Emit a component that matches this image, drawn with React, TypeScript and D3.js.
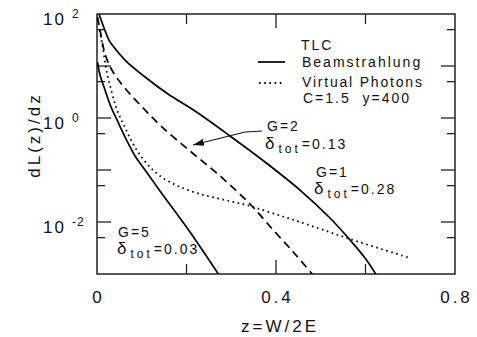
import { useRef, useEffect } from "react";
import * as d3 from "d3";

// curves: [z, dL/dz]
const beamG1: [number, number][] = [
  [0.0045, 100], [0.0268, 31.6], [0.0358, 24.2], [0.0626, 13.0], [0.1073, 6.14],
  [0.1587, 2.89], [0.219, 1.36], [0.2972, 0.451], [0.3754, 0.1426], [0.4536, 0.0412],
  [0.5207, 0.01194], [0.5654, 0.00451], [0.5989, 0.00203], [0.6257, 0.000916],
];
const beamG2: [number, number][] = [
  [0.0011, 87.6], [0.0067, 49.3], [0.0156, 20.3], [0.0246, 11.9], [0.0358, 7.67],
  [0.0514, 4.92], [0.0737, 2.89], [0.1073, 1.425], [0.1475, 0.643], [0.2078, 0.232],
  [0.2749, 0.0767], [0.3419, 0.0222], [0.3978, 0.00642], [0.4425, 0.00243],
  [0.4827, 0.000957],
];
const beamG5: [number, number][] = [
  [0.0011, 11.9], [0.0067, 6.71], [0.0156, 3.95], [0.0313, 1.63], [0.0447, 0.916],
  [0.0648, 0.394], [0.0849, 0.186], [0.1073, 0.1], [0.1408, 0.0394], [0.2078, 0.00642],
  [0.2726, 0.000957],
];
const virtualPhotons: [number, number][] = [
  [0.0056, 49.3], [0.0112, 27.7], [0.0223, 7.33], [0.0335, 3.03], [0.0425, 1.63],
  [0.0514, 1.045], [0.0626, 0.656], [0.076, 0.378], [0.0916, 0.222], [0.114, 0.125],
  [0.1408, 0.0767], [0.181, 0.0492], [0.2302, 0.0345], [0.286, 0.0265], [0.3419, 0.0203],
  [0.3978, 0.01426], [0.4536, 0.01], [0.5654, 0.00471], [0.6994, 0.00203],
];

const xTicks = [0, 0.2, 0.4, 0.6, 0.8];
const xLabels = ["0", "", "0.4", "", "0.8"];
const yDecades = [100, 10, 1, 0.1, 0.01, 0.001];
const yLabelled = [
  { v: 100, exp: "2" },
  { v: 1, exp: "0" },
  { v: 0.01, exp: "-2" },
];
const yMinor = [50, 5, 0.5, 0.05, 0.005];
// arrow pointing at the G=2 curve
const arrowPts: [number, number][] = [[0.369, 0.563], [0.331, 0.538], [0.2145, 0.303]];

const FONT = "'Liberation Sans', Arial, Helvetica, sans-serif";
const INK = "#111";

export default function App() {
  const svgRef = useRef<SVGSVGElement>(null);

  useEffect(() => {
    if (!svgRef.current) return;
    const svg = d3.select(svgRef.current);
    svg.selectAll("*").remove();

    const W = 477, H = 337;
    const margin = { top: 14, right: 22, bottom: 63, left: 97 };
    const x = d3.scaleLinear().domain([0, 0.8]).range([margin.left, W - margin.right]);
    const y = d3.scaleLog().domain([0.001, 100]).range([H - margin.bottom, margin.top]);
    const x0 = margin.left, x1 = W - margin.right, y0 = H - margin.bottom, y1 = margin.top;

    const defs = svg.append("defs");
    defs.append("clipPath").attr("id", "plot")
      .append("rect").attr("x", x0).attr("y", y1).attr("width", x1 - x0).attr("height", y0 - y1);
    defs.append("marker")
      .attr("id", "head").attr("viewBox", "0 0 11 7").attr("refX", 11).attr("refY", 3.5)
      .attr("markerWidth", 11).attr("markerHeight", 7).attr("markerUnits", "userSpaceOnUse")
      .attr("orient", "auto")
      .append("path").attr("d", "M0,0 L11,3.5 L0,7 Z").attr("fill", INK);

    // frame
    svg.append("rect").attr("x", x0).attr("y", y1).attr("width", x1 - x0).attr("height", y0 - y1)
      .attr("fill", "none").attr("stroke", "#222").attr("stroke-width", 1.5);

    // x ticks (inside, top and bottom)
    xTicks.slice(1, -1).forEach((t, i) => {
      const len = xLabels[i + 1] ? 14 : 10;
      svg.append("line").attr("x1", x(t)).attr("x2", x(t)).attr("y1", y0).attr("y2", y0 - len)
        .attr("stroke", "#222").attr("stroke-width", 1.3);
      svg.append("line").attr("x1", x(t)).attr("x2", x(t)).attr("y1", y1).attr("y2", y1 + len)
        .attr("stroke", "#222").attr("stroke-width", 1.3);
    });
    xTicks.forEach((t, i) => {
      if (!xLabels[i]) return;
      svg.append("text").attr("x", x(t) + 1.5).attr("y", 303).attr("text-anchor", "middle")
        .attr("font-family", FONT).attr("font-size", 17).attr("letter-spacing", 3)
        .attr("fill", INK).text(xLabels[i]);
    });

    // y ticks (inside, left and right)
    const yTick = (v: number, len: number) => {
      svg.append("line").attr("x1", x0).attr("x2", x0 + len).attr("y1", y(v)).attr("y2", y(v))
        .attr("stroke", "#222").attr("stroke-width", 1.3);
      svg.append("line").attr("x1", x1).attr("x2", x1 - len).attr("y1", y(v)).attr("y2", y(v))
        .attr("stroke", "#222").attr("stroke-width", 1.3);
    };
    yDecades.slice(1, -1).forEach((v) => yTick(v, 14));
    yMinor.forEach((v) => yTick(v, 8));

    yLabelled.forEach((d) => {
      svg.append("text").attr("x", 43).attr("y", y(d.v) + 11)
        .attr("font-family", FONT).attr("font-size", 17).attr("letter-spacing", 2)
        .attr("fill", INK).text("10");
      svg.append("text").attr("x", 72).attr("y", y(d.v) + 4)
        .attr("font-family", FONT).attr("font-size", 12).attr("letter-spacing", 1)
        .attr("fill", INK).text(d.exp);
    });

    // axis titles
    svg.append("text").attr("x", 280).attr("y", 332).attr("text-anchor", "middle")
      .attr("font-family", FONT).attr("font-size", 17).attr("letter-spacing", 3)
      .attr("fill", INK).text("z=W/2E");
    svg.append("text").attr("transform", "translate(40,135) rotate(-90)").attr("text-anchor", "middle")
      .attr("font-family", FONT).attr("font-size", 17).attr("letter-spacing", 3)
      .attr("fill", INK).text("dL(z)/dz");

    // curves
    const line = d3.line<[number, number]>()
      .x((d) => x(d[0])).y((d) => y(d[1])).curve(d3.curveCatmullRom.alpha(0.5));
    const curves = svg.append("g").attr("clip-path", "url(#plot)")
      .attr("fill", "none").attr("stroke", "#000").attr("stroke-width", 1.7);
    curves.append("path").attr("d", line(beamG1));
    curves.append("path").attr("d", line(beamG5));
    curves.append("path").attr("d", line(beamG2)).attr("stroke-dasharray", "8,5");
    curves.append("path").attr("d", line(virtualPhotons))
      .attr("stroke-dasharray", "1.6,3.6").attr("stroke-width", 1.8);

    // arrow
    svg.append("path")
      .attr("d", d3.line<[number, number]>().x((d) => x(d[0])).y((d) => y(d[1]))(arrowPts))
      .attr("fill", "none").attr("stroke", INK).attr("stroke-width", 1.2)
      .attr("marker-end", "url(#head)");

    // legend
    const txt = (tx: number, ty: number, s: string, size = 14, ls = 2) =>
      svg.append("text").attr("x", tx).attr("y", ty).attr("font-family", FONT)
        .attr("font-size", size).attr("letter-spacing", ls).attr("fill", INK).text(s);
    txt(301, 50, "TLC");
    svg.append("line").attr("x1", 258).attr("x2", 285).attr("y1", 62).attr("y2", 62)
      .attr("stroke", "#000").attr("stroke-width", 1.7);
    txt(302, 67, "Beamstrahlung");
    svg.append("line").attr("x1", 259).attr("x2", 285).attr("y1", 83).attr("y2", 83)
      .attr("stroke", "#000").attr("stroke-width", 1.8).attr("stroke-dasharray", "1.6,3.6");
    txt(302, 87, "Virtual Photons", 14, 1.8);
    txt(303, 103, "C=1.5\u00a0\u00a0y=400");

    // G / delta labels
    const delta = (tx: number, ty: number, val: string) => {
      const t = svg.append("text").attr("x", tx).attr("y", ty).attr("font-family", FONT)
        .attr("font-size", 17).attr("fill", INK);
      t.append("tspan").text("δ");
      t.append("tspan").attr("dx", 4).attr("dy", 4).attr("font-size", 12)
        .attr("letter-spacing", 3).text("tot");
      t.append("tspan").attr("dx", 1).attr("dy", -4).attr("font-size", 14)
        .attr("letter-spacing", 2).text(val);
    };
    txt(267, 131, "G=2");
    delta(265, 149, "=0.13");
    txt(316, 177, "G=1");
    delta(314, 194, "=0.28");
    txt(118, 237, "G=5");
    delta(117, 254, "=0.03");
  }, []);

  return (
    <svg
      ref={svgRef}
      width={477}
      height={337}
      style={{ position: "absolute", left: 0, top: 0, background: "#fff" }}
    />
  );
}
